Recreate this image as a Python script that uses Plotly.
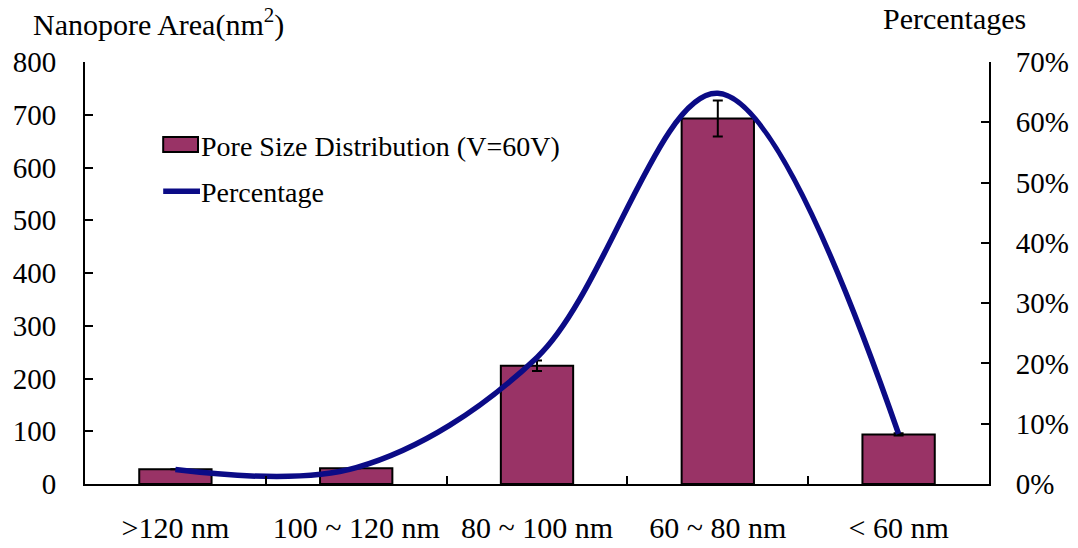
import plotly.graph_objects as go

# Pore size classes and measured values
categories = [">120 nm", "100 ~ 120 nm", "80 ~ 100 nm", "60 ~ 80 nm", "< 60 nm"]
pore_area = [28, 30, 224, 693, 94]          # nm^2
pore_area_err = [0, 0, 10, 34, 2]
percentage = [0.024, 0.027, 0.21, 0.648, 0.083]

FONT = "Liberation Serif"
BAR_COLOR = "#993366"
LINE_COLOR = "#0b0b86"

fig = go.Figure()

fig.add_trace(go.Bar(
    x=categories,
    y=pore_area,
    name="Pore Size Distribution (V=60V)",
    marker=dict(color=BAR_COLOR, line=dict(color="black", width=2)),
    width=0.4,
    error_y=dict(type="data", array=pore_area_err, visible=True,
                 color="black", thickness=2, width=5),
    yaxis="y",
))

fig.add_trace(go.Scatter(
    x=categories,
    y=percentage,
    name="Percentage",
    mode="lines",
    line=dict(color=LINE_COLOR, width=5.5, shape="spline", smoothing=1.0),
    yaxis="y2",
))

# Legend drawn by hand: wide swatch box, line sample and labels
legend_shapes = [
    dict(type="rect", xref="paper", yref="paper",
         x0=0.0865, x1=0.1250, y0=0.7868, y1=0.8223,
         fillcolor=BAR_COLOR, line=dict(color="black", width=2)),
    dict(type="line", xref="paper", yref="paper",
         x0=0.0865, x1=0.1272, y0=0.694, y1=0.694,
         line=dict(color=LINE_COLOR, width=5.5)),
]
legend_texts = [
    dict(text="Pore Size Distribution (V=60V)", xref="paper", yref="paper",
         x=0.1262, y=0.7986, xanchor="left", yanchor="middle",
         showarrow=False, font=dict(family=FONT, size=28)),
    dict(text="Percentage", xref="paper", yref="paper",
         x=0.1262, y=0.6896, xanchor="left", yanchor="middle",
         showarrow=False, font=dict(family=FONT, size=28)),
]

fig.update_layout(
    width=1078,
    height=548,
    margin=dict(l=85, r=89, t=62, b=64, autoexpand=False),
    paper_bgcolor="white",
    plot_bgcolor="white",
    font=dict(family=FONT, size=28, color="black"),
    bargap=0.6,
    showlegend=False,
    xaxis=dict(
        type="category",
        automargin=False,
        showline=True, linecolor="black", linewidth=2,
        ticks="inside", ticklen=8, tickwidth=2, tickcolor="black",
        tickson="boundaries",
        showgrid=False, zeroline=False,
        ticklabelstandoff=16,
        tickfont=dict(family=FONT, size=30),
    ),
    yaxis=dict(
        range=[0, 800], dtick=100,
        automargin=False,
        showline=True, linecolor="black", linewidth=2,
        ticks="inside", ticklen=8, tickwidth=2, tickcolor="black",
        showgrid=False, zeroline=False,
        ticklabelstandoff=21,
        tickfont=dict(family=FONT, size=29),
    ),
    yaxis2=dict(
        range=[0, 0.7], dtick=0.1, tickformat=".0%",
        overlaying="y", side="right",
        automargin=False,
        showline=True, linecolor="black", linewidth=2,
        ticks="inside", ticklen=8, tickwidth=2, tickcolor="black",
        showgrid=False, zeroline=False,
        ticklabelstandoff=19,
        tickfont=dict(family=FONT, size=29),
    ),
    shapes=legend_shapes,
    annotations=[
        dict(text="Nanopore Area(nm<sup>2</sup>)", xref="paper", yref="paper",
             x=-0.06, y=1.0, yshift=40, xanchor="left", yanchor="middle",
             showarrow=False, font=dict(family=FONT, size=30)),
        dict(text="Percentages", xref="paper", yref="paper",
             x=0.88, y=1.0, yshift=44, xanchor="left", yanchor="middle",
             showarrow=False, font=dict(family=FONT, size=30)),
    ] + legend_texts,
)

fig.write_html("out.html")
